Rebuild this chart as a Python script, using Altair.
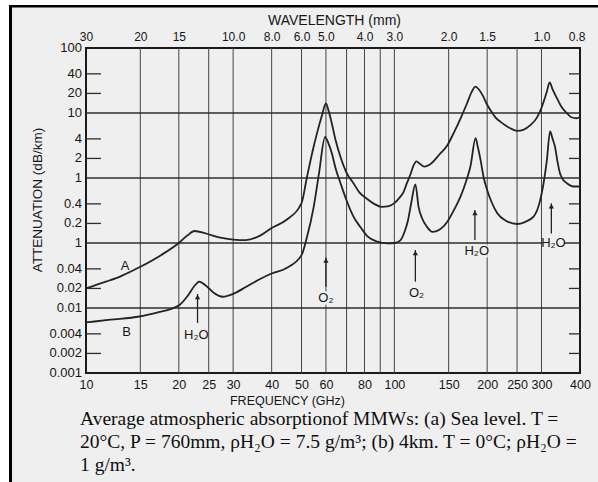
import altair as alt
import pandas as pd

# Curve A: sea level, T = 20 C, water vapour 7.5 g/m3
freq_a = [10, 11.6, 13, 15, 17.5, 20, 21.3, 22.5, 24.5, 27, 30, 33, 36.7, 40, 44.6,
          50, 52, 54.7, 56.5, 58.1, 60, 61.3, 62.7, 64.5, 66.9, 70, 73.7, 77, 81, 86,
          91, 96, 100, 104, 107, 110, 112.5, 115, 118, 121, 125, 130, 140, 148.6, 156,
          164, 172, 178, 183.3, 188, 193, 199, 205, 213, 221, 235, 250, 262, 276, 290,
          301, 312, 319, 326, 337, 350, 363, 375, 390, 400]
atten_a = [0.020, 0.0254, 0.031, 0.043, 0.065, 0.10, 0.13, 0.153, 0.14, 0.122, 0.113, 0.111, 0.13, 0.17, 0.226,
           0.41, 1.0, 3.0, 5.5, 8.8, 14, 10.5, 6.9, 3.8, 2.1, 1.2, 0.83, 0.6, 0.49, 0.4,
           0.36, 0.37, 0.41, 0.5, 0.6, 0.85, 1.1, 1.5, 1.8, 1.65, 1.5, 1.6, 2.3, 3.2, 5.0,
           8.3, 14, 21, 25.5, 23, 19, 14, 11, 8.5, 7.3, 6.0, 5.3, 5.5, 6.5, 8.5,
           12.5, 21, 29.5, 23, 16.8, 12, 9.9, 8.6, 8.3, 8.7]

# Curve B: 4 km altitude, T = 0 C, water vapour 1 g/m3
freq_b = [10, 12, 14.9, 17, 19, 20.1, 21.5, 22.5, 23.3, 24.5, 26, 27.8, 30, 33, 36.7,
          40, 44.6, 50, 52, 54.7, 57, 59.6, 61, 62.7, 64.5, 66.9, 70, 73.7, 78, 82,
          88, 95, 100, 104.6, 108, 110.8, 113.5, 117, 119.8, 123, 127.5, 133, 140, 148.6, 156,
          164, 171, 176.4, 183.5, 186.5, 189.6, 195, 200, 207, 215.7, 230, 250, 265, 282.7, 295,
          304.7, 312, 320, 326, 332, 338, 344.5, 352, 362.6, 381, 400]
atten_b = [0.006, 0.0066, 0.0074, 0.0085, 0.0098, 0.0111, 0.016, 0.022, 0.0254, 0.022, 0.017, 0.0149, 0.0165, 0.021, 0.028,
           0.034, 0.041, 0.065, 0.12, 0.35, 1.2, 4.3, 3.5, 2.4, 1.4, 0.83, 0.45, 0.254, 0.17, 0.125,
           0.105, 0.099, 0.1, 0.11, 0.15, 0.226, 0.42, 0.8, 0.36, 0.24, 0.178, 0.148, 0.16, 0.213, 0.32,
           0.52, 0.9, 1.49, 4.1, 3.0, 2.1, 1.0, 0.65, 0.42, 0.286, 0.22, 0.196, 0.21, 0.254, 0.4,
           0.83, 1.8, 5.2, 4.0, 3.0, 1.8, 1.18, 0.95, 0.83, 0.74, 0.74]

# Absorption line markers (arrow tip / tail) and their labels
arrow_ghz = [23, 60, 117, 182.5, 323]
arrow_tip = [0.0164, 0.06, 0.078, 0.322, 0.408]
arrow_tail = [0.0059, 0.0213, 0.0254, 0.111, 0.14]
curve_names = ["A", "B"]
curve_name_ghz = [13.4, 13.55]
curve_name_val = [0.0443, 0.00432]
line_names = ["H₂O", "O₂", "O₂", "H₂O", "H₂O"]
line_name_ghz = [22.8, 60, 118, 185, 328]
line_name_val = [0.00385, 0.01425, 0.017, 0.0755, 0.101]

# Axes
freq_ticks = [10, 15, 20, 25, 30, 40, 50, 60, 80, 100, 150, 200, 250, 300, 400]
grid_ghz = [15, 20, 25, 30, 40, 50, 60, 70, 80, 90, 100, 150, 200, 250, 300]
wave_ghz = [10, 15, 20, 30, 40, 50, 60, 80, 100, 150, 200, 300, 390]
wave_labels = ["30", "20", "15", "10.0", "8.0", "6.0", "5.0", "4.0", "3.0", "2.0", "1.5", "1.0", "0.8"]
atten_ticks = [100, 40, 20, 10, 4, 2, 1, 0.4, 0.2, 0.1, 0.04, 0.02, 0.01, 0.004, 0.002, 0.001]
atten_labels = ["100", "40", "20", "10", "4", "2", "1", "0.4", "0.2", "1", "0.04", "0.02", "0.01",
                "0.004", "0.002", "0.001"]
decade_grid = [10, 1, 0.1, 0.01]
minor_marks = [40, 20, 4, 2, 0.4, 0.2, 0.04, 0.02, 0.004, 0.002]

caption = ("Average atmospheric absorptionof MMWs: (a) Sea level. T =\n"
           "20°C, P = 760mm, ρH₂O = 7.5 g/m³; (b) 4km. T = 0°C; ρH₂O =\n"
           "1 g/m³.")

W, H = 494, 325
INK = "#161616"
PAPER = "#efefef"
SANS = "Liberation Sans"


def lookup_expr(values, labels):
    parts = [f"abs(datum.value - {v}) < {v * 1e-6} ? '{t}'" for v, t in zip(values, labels)]
    return " : ".join(parts) + " : ''"


curves = pd.concat([
    pd.DataFrame({"ghz": freq_a, "db": atten_a, "series": "A"}),
    pd.DataFrame({"ghz": freq_b, "db": atten_b, "series": "B"}),
])
arrows = pd.DataFrame({"ghz": arrow_ghz, "tip": arrow_tip, "tail": arrow_tail})
names = pd.DataFrame({"ghz": curve_name_ghz, "db": curve_name_val, "text": curve_names})
molecules = pd.DataFrame({"ghz": line_name_ghz, "db": line_name_val, "text": line_names})
ylabels = pd.DataFrame({"db": atten_ticks, "text": atten_labels})

xs = alt.Scale(type="log", domain=[10, 400], nice=False)
ys = alt.Scale(type="log", domain=[0.001, 100], nice=False)

x_bottom = alt.Axis(orient="bottom", values=freq_ticks, format="d", tickSize=0, domain=False,
                    grid=False, labelFont=SANS, labelFontSize=12.5, labelColor=INK, labelPadding=5,
                    labelFlush=False, title="FREQUENCY (GHz)", titleFont=SANS, titleFontSize=12.5,
                    titleFontWeight="normal", titleColor=INK, titleX=201, titleY=27,
                    titleBaseline="middle", titleAlign="center")
x_top = alt.Axis(orient="top", values=wave_ghz, labelExpr=lookup_expr(wave_ghz, wave_labels),
                 tickSize=0, domain=False, grid=False, labelFont=SANS, labelFontSize=12,
                 labelColor=INK, labelPadding=5, labelFlush=False, title="WAVELENGTH (mm)",
                 titleFont=SANS, titleFontSize=14, titleFontWeight="normal", titleColor=INK,
                 titleX=248, titleY=-28, titleBaseline="middle", titleAlign="center")

vgrid = alt.Chart(pd.DataFrame({"ghz": grid_ghz})).mark_rule(color="#444444", strokeWidth=1).encode(
    x=alt.X("ghz:Q", scale=xs, axis=x_top),
)
hgrid = alt.Chart(pd.DataFrame({"db": decade_grid})).mark_rule(color="#2e2e2e", strokeWidth=1.3).encode(
    y=alt.Y("db:Q", scale=ys, axis=None),
)
minor = pd.DataFrame({"db": minor_marks})
left_ticks = alt.Chart(minor).mark_rule(color="#2e2e2e", strokeWidth=1.3).encode(
    y=alt.Y("db:Q", scale=ys, axis=None), x=alt.value(0), x2=alt.value(15),
)
right_ticks = alt.Chart(minor).mark_rule(color="#2e2e2e", strokeWidth=1.3).encode(
    y=alt.Y("db:Q", scale=ys, axis=None), x=alt.value(W - 11), x2=alt.value(W),
)

# attenuation scale labels and title at the left of the frame
y_text = alt.Chart(ylabels).mark_text(font=SANS, fontSize=13, color=INK, align="right",
                                      baseline="middle").encode(
    y=alt.Y("db:Q", scale=ys, axis=None), x=alt.value(-4), text="text:N",
)
y_title = alt.Chart(pd.DataFrame({"t": ["ATTENUATION (dB/km)"]})).mark_text(
    font=SANS, fontSize=13.5, color=INK, angle=270, align="center", baseline="middle",
).encode(x=alt.value(-48), y=alt.value(152), text="t:N")

lines = alt.Chart(curves).mark_line(color="#232323", strokeWidth=1.8, interpolate="monotone").encode(
    x=alt.X("ghz:Q", scale=xs, axis=x_bottom),
    y=alt.Y("db:Q", scale=ys, axis=None),
    detail="series:N",
)

shafts = alt.Chart(arrows).mark_rule(color="#232323", strokeWidth=1.3).encode(
    x=alt.X("ghz:Q", scale=xs, axis=None),
    y=alt.Y("tip:Q", scale=ys, axis=None),
    y2="tail:Q",
)
heads = alt.Chart(arrows).mark_point(shape="triangle-up", filled=True, size=28, color="#232323",
                                     opacity=1, yOffset=3).encode(
    x=alt.X("ghz:Q", scale=xs, axis=None),
    y=alt.Y("tip:Q", scale=ys, axis=None),
)
# paper-coloured patch so grid lines break around the molecule labels
label_patch = alt.Chart(molecules).mark_point(
    shape="M-1,-0.6L1,-0.6L1,0.6L-1,0.6Z", filled=True, size=484, color=PAPER, opacity=1,
).encode(
    x=alt.X("ghz:Q", scale=xs, axis=None),
    y=alt.Y("db:Q", scale=ys, axis=None),
)
molecule_text = alt.Chart(molecules).mark_text(font=SANS, fontSize=13, color=INK,
                                               baseline="middle").encode(
    x=alt.X("ghz:Q", scale=xs, axis=None),
    y=alt.Y("db:Q", scale=ys, axis=None),
    text="text:N",
)
name_text = alt.Chart(names).mark_text(font=SANS, fontSize=13, color=INK, baseline="middle").encode(
    x=alt.X("ghz:Q", scale=xs, axis=None),
    y=alt.Y("db:Q", scale=ys, axis=None),
    text="text:N",
)

cap = alt.Chart(pd.DataFrame({"t": [caption]})).mark_text(
    font="Liberation Serif", fontSize=19.5, color="#0e0e0e", align="left", baseline="alphabetic",
    lineBreak="\n", lineHeight=23,
).encode(x=alt.value(-6), y=alt.value(377), text="t:N")

# scanned-page edges
page_edge = alt.Chart(pd.DataFrame({"k": [0]})).mark_rect(color="white").encode(
    x=alt.value(-86), x2=alt.value(-77), y=alt.value(-48), y2=alt.value(434))
page_top = alt.Chart(pd.DataFrame({"k": [0]})).mark_rect(color="white").encode(
    x=alt.value(-86), x2=alt.value(512), y=alt.value(-48), y2=alt.value(-43))
edge_left = alt.Chart(pd.DataFrame({"k": [0]})).mark_rect(color="black").encode(
    x=alt.value(-77), x2=alt.value(-74), y=alt.value(-43), y2=alt.value(434))
edge_top = alt.Chart(pd.DataFrame({"k": [0]})).mark_rect(color="black").encode(
    x=alt.value(-77), x2=alt.value(512), y=alt.value(-43), y2=alt.value(-40.5))

chart = alt.layer(
    page_edge, page_top, edge_left, edge_top,
    vgrid, hgrid, left_ticks, right_ticks, lines, shafts, heads, label_patch, molecule_text,
    name_text, y_text, y_title, cap,
).resolve_axis(x="independent").properties(
    width=W, height=H,
    autosize=alt.AutoSizeParams(type="none"),
    padding={"left": 86, "top": 48, "right": 18, "bottom": 109},
    background=PAPER,
).configure_view(stroke="#1a1a1a", strokeWidth=2)

chart.save("out.html", embed_options={"renderer": "svg", "actions": False})
